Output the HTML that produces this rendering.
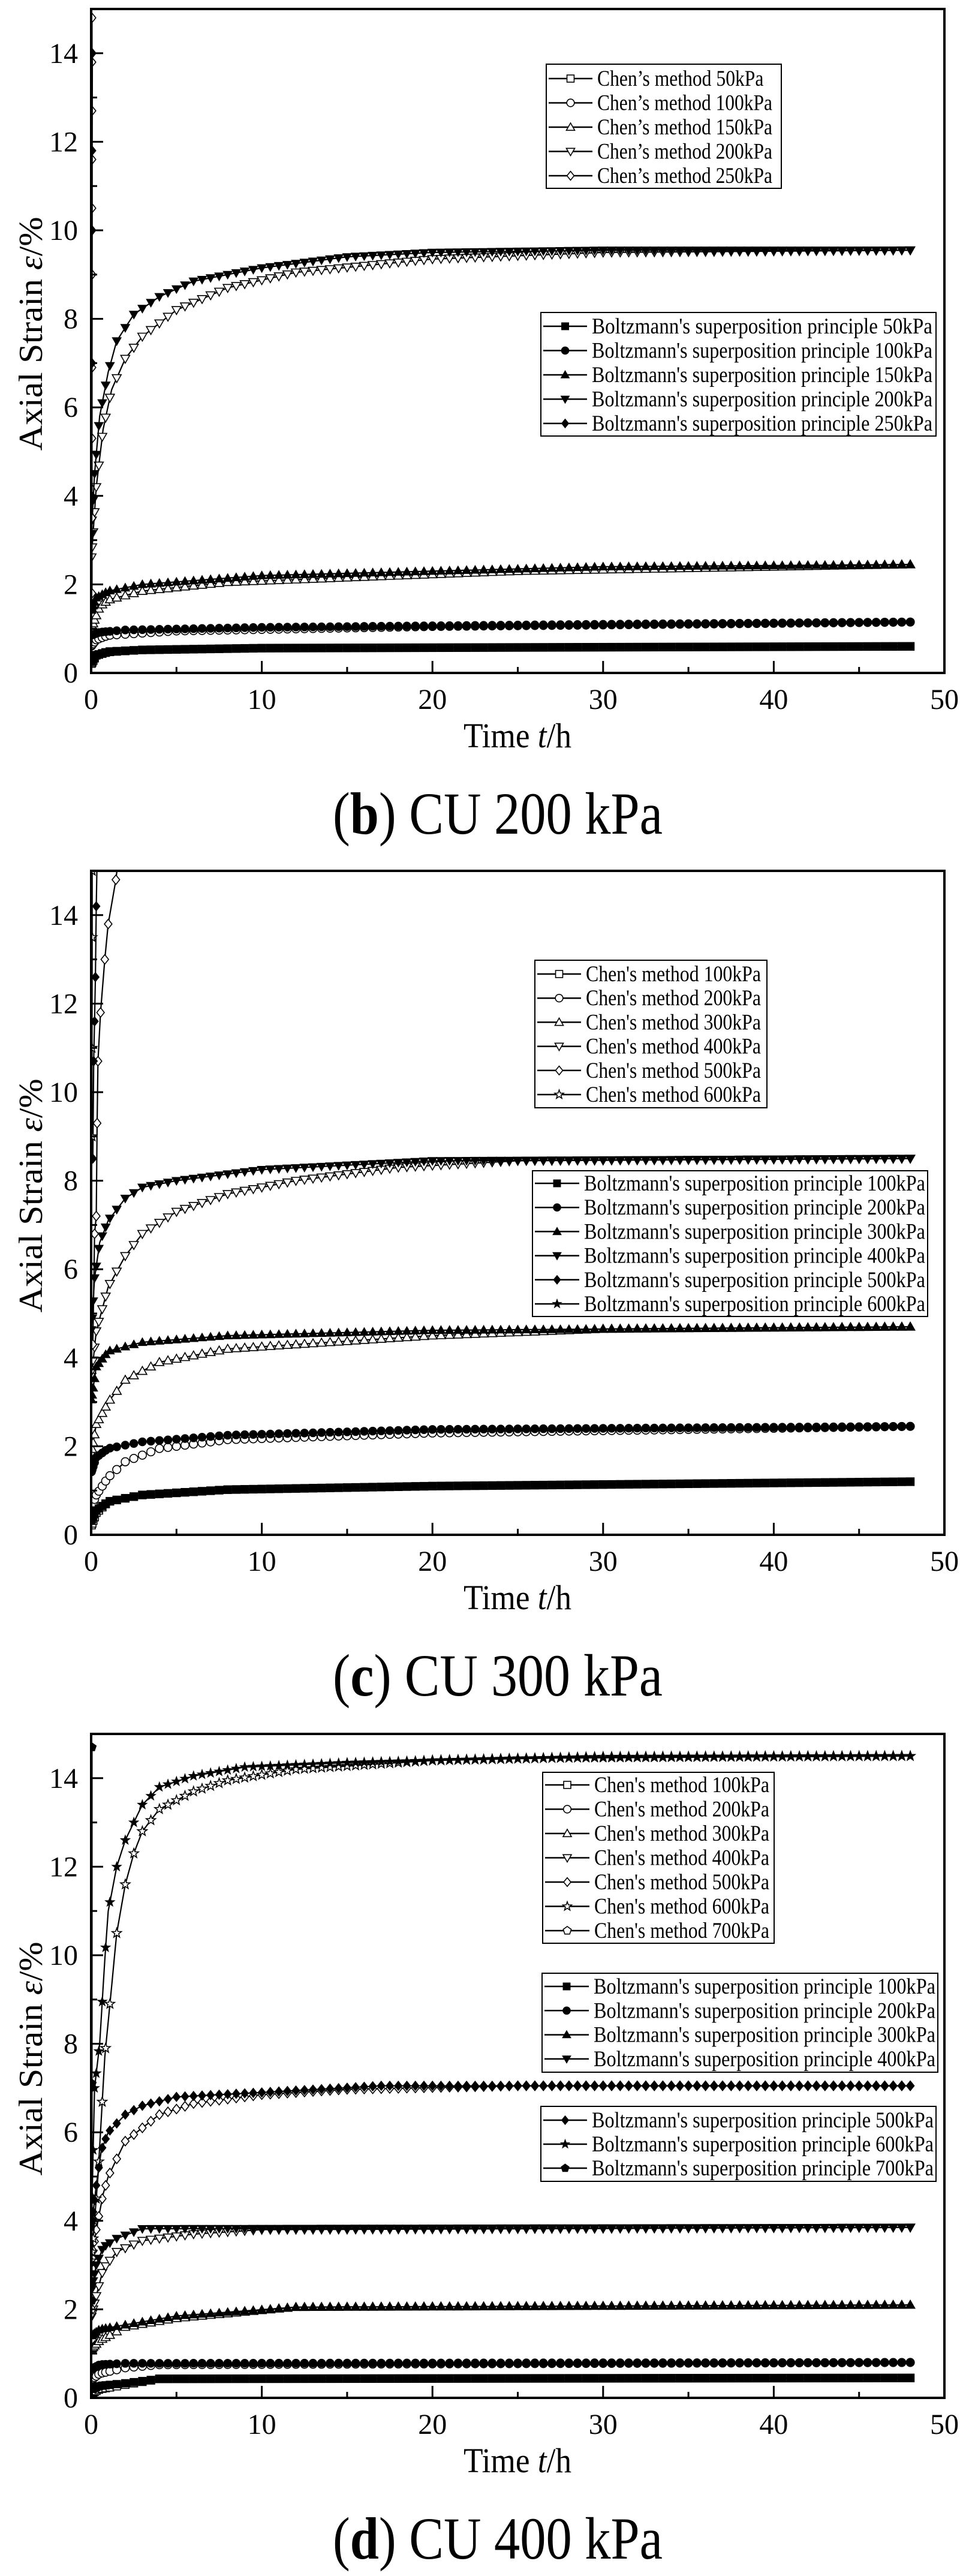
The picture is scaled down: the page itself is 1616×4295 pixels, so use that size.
<!DOCTYPE html>
<html><head><meta charset="utf-8">
<style>
html,body{margin:0;padding:0;background:#fff;}
svg{display:block;}
text{font-family:"Liberation Serif",serif;fill:#000;}
</style></head>
<body>
<svg id="s" width="1616" height="4295" viewBox="0 0 1616 4295" xmlns="http://www.w3.org/2000/svg"></svg>
<script>
const S=document.getElementById('s');
const NS='http://www.w3.org/2000/svg';
function el(tag,attrs,parent,txt){const e=document.createElementNS(NS,tag);for(const k in attrs)e.setAttribute(k,attrs[k]);if(txt!==undefined)e.textContent=txt;(parent||S).appendChild(e);return e;}
const X0=152,X1=1575,PX=(X1-X0)/50,PH=1107,PU=PH/15;

function marker(g,type,cx,cy,filled,r){
  r=r||7.5;
  const f=filled?'#000':'#fff';
  const a={fill:f,stroke:'#000','stroke-width':filled?1:1.6};
  let pts;
  switch(type){
    case 'sq': el('rect',Object.assign({x:cx-r*0.85,y:cy-r*0.85,width:r*1.7,height:r*1.7},a),g);return;
    case 'ci': el('circle',Object.assign({cx:cx,cy:cy,r:r*0.9},a),g);return;
    case 'tu': pts=[[0,-r],[r,r*0.75],[-r,r*0.75]];break;
    case 'td': pts=[[0,r],[r,-r*0.75],[-r,-r*0.75]];break;
    case 'di': pts=[[0,-r*1.05],[r*0.85,0],[0,r*1.05],[-r*0.85,0]];break;
    case 'st': pts=[];for(let i=0;i<10;i++){const ang=-Math.PI/2+i*Math.PI/5;const rr=i%2?r*0.45:r*1.1;pts.push([rr*Math.cos(ang),rr*Math.sin(ang)]);}break;
    case 'pe': pts=[];for(let i=0;i<5;i++){const ang=-Math.PI/2+i*2*Math.PI/5;pts.push([r*Math.cos(ang),r*Math.sin(ang)]);}break;
  }
  el('polygon',Object.assign({points:pts.map(p=>(cx+p[0]).toFixed(1)+','+(cy+p[1]).toFixed(1)).join(' ')},a),g);
}

function interp(kp,t){
  if(t<=kp[0][0])return kp[0][1];
  for(let i=1;i<kp.length;i++){if(t<=kp[i][0]){const a=kp[i-1],b=kp[i];const u=(t-a[0])/(b[0]-a[0]);return a[1]+(b[1]-a[1])*u;}}
  return kp[kp.length-1][1];
}
const MT=[0.02,0.06,0.12,0.2,0.3,0.45,0.65,0.85,1.1];
for(let t=1.5;t<=48.01;t+=0.5)MT.push(t);

function chart(top,cfg){
  const y0=top+PH;
  const Y=v=>y0-v*PU, Xp=t=>X0+t*PX;
  const g=el('g',{});
  const clip='c'+top;
  const cp=el('clipPath',{id:clip},g);el('rect',{x:X0,y:top,width:X1-X0,height:PH},cp);
  const sg=el('g',{'clip-path':'url(#'+clip+')'},g);
  cfg.series.forEach(s=>{
    let pts=[];
    if(s.vert){
      s.vert.forEach(p=>pts.push([Xp(p[0]),Y(p[1])]));
      el('polyline',{points:pts.map(p=>p.join(',')).join(' '),fill:'none',stroke:'#000','stroke-width':2.2},sg);
      pts.forEach(p=>marker(sg,s.m,p[0],p[1],s.f));
      return;
    }
    const line=[];
    for(let t=0;t<=48;t+=0.1)line.push([Xp(t).toFixed(1),Y(interp(s.kp,t)).toFixed(1)]);
    el('polyline',{points:line.map(p=>p.join(',')).join(' '),fill:'none',stroke:'#000','stroke-width':2.2},sg);
    MT.forEach(t=>marker(sg,s.m,Xp(t),Y(interp(s.kp,t)),s.f));
  });
  el('rect',{x:X0,y:top,width:X1-X0,height:PH,fill:'none',stroke:'#000','stroke-width':4},g);
  for(let v=0;v<=50;v+=5){const x=Xp(v);el('line',{x1:x,y1:y0,x2:x,y2:y0-(v%10?10:20),stroke:'#000','stroke-width':3},g);
    if(v%10===0)el('text',{x:x,y:y0+60,'font-size':48,'text-anchor':'middle'},g,String(v));}
  for(let v=0;v<=15;v++){const y=Y(v);el('line',{x1:X0,y1:y,x2:X0+(v%2?10:20),y2:y,stroke:'#000','stroke-width':3},g);
    if(v%2===0)el('text',{x:130,y:y+16,'font-size':48,'text-anchor':'end'},g,String(v));}
  const cy=(top+y0)/2;
  const yt=el('text',{x:0,y:0,'font-size':56,'text-anchor':'middle',transform:`translate(70,${cy-12}) rotate(-90)`,textLength:390,lengthAdjust:'spacingAndGlyphs'},g);
  el('tspan',{},yt,'Axial Strain  ');el('tspan',{'font-style':'italic'},yt,'ε');el('tspan',{},yt,'/%');
  const xt=el('text',{x:863,y:y0+124,'font-size':58,'text-anchor':'middle',textLength:180,lengthAdjust:'spacingAndGlyphs'},g);
  el('tspan',{},xt,'Time ');el('tspan',{'font-style':'italic'},xt,'t');el('tspan',{},xt,'/h');
  const cap=el('text',{x:830,y:y0+268,'font-size':100,'text-anchor':'middle',textLength:550,lengthAdjust:'spacingAndGlyphs'},g);
  el('tspan',{},cap,'(');el('tspan',{'font-weight':'bold'},cap,cfg.cap[0]);el('tspan',{},cap,') '+cfg.cap[1]);
  cfg.legends.forEach(L=>{
    el('rect',{x:L.x,y:L.y,width:L.w,height:L.h,fill:'#fff',stroke:'#000','stroke-width':2},g);
    L.items.forEach((it,i)=>{
      const yy=L.y0+i*L.dy;
      el('line',{x1:L.x+4,y1:yy,x2:L.tx-8,y2:yy,stroke:'#000','stroke-width':2.5},g);
      marker(g,it[0],(L.x+L.tx-4)/2,yy,it[1],7);
      el('text',{x:L.tx,y:yy+12,'font-size':37,textLength:L.tl(it[2]),lengthAdjust:'spacingAndGlyphs'},g,it[2]);
    });
  });
}

const chenW=(s)=>s.length*14.6;

chart(15,{
  cap:['b','CU 200 kPa'],
  series:[
    {m:'sq',f:0,kp:[[0,0.2],[0.3,0.4],[1,0.48],[3,0.52],[10,0.56],[48,0.6]]},
    {m:'ci',f:0,kp:[[0,0.6],[0.3,0.75],[1,0.85],[5,0.95],[20,1.05],[48,1.15]]},
    {m:'tu',f:0,kp:[[0,1.0],[0.5,1.5],[1,1.65],[3,1.85],[8,2.05],[25,2.3],[48,2.45]]},
    {m:'td',f:0,kp:[[0,2.5],[0.3,4.2],[0.7,5.5],[1.2,6.4],[2,7.1],[3,7.6],[5,8.2],[8,8.7],[12,9.05],[20,9.35],[30,9.5],[48,9.55]]},
    {m:'sq',f:1,kp:[[0,0.25],[0.3,0.4],[1,0.47],[3,0.52],[10,0.56],[48,0.6]]},
    {m:'ci',f:1,kp:[[0,0.85],[0.5,0.92],[2,0.97],[10,1.03],[30,1.1],[48,1.15]]},
    {m:'tu',f:1,kp:[[0,1.4],[0.3,1.7],[1,1.85],[3,2.0],[10,2.2],[30,2.4],[48,2.45]]},
    {m:'td',f:1,kp:[[0,3.0],[0.2,4.5],[0.5,5.8],[1,6.8],[1.5,7.5],[2.5,8.1],[4,8.5],[6,8.85],[10,9.15],[15,9.4],[20,9.5],[30,9.55],[48,9.55]]},
    {m:'di',f:0,vert:[[0.05,1.8],[0.05,3.5],[0.05,5.3],[0.05,6.9],[0.05,9.0],[0.05,10.5],[0.05,11.6],[0.05,12.7],[0.05,13.8],[0.05,14.8]]},
    {m:'di',f:1,vert:[[0.02,1.5],[0.04,4],[0.05,7],[0.06,10],[0.06,11.8],[0.07,14.0]]},
  ],
  legends:[
    {x:911,y:107,w:392,h:207,y0:131,dy:40.5,tx:996,tl:chenW,items:[['sq',0,'Chen’s method 50kPa'],['ci',0,'Chen’s method 100kPa'],['tu',0,'Chen’s method 150kPa'],['td',0,'Chen’s method 200kPa'],['di',0,'Chen’s method 250kPa']]},
    {x:902,y:521,w:659,h:206,y0:544,dy:40.5,tx:987,tl:s=>568,items:[['sq',1,"Boltzmann's superposition principle 50kPa"],['ci',1,"Boltzmann's superposition principle 100kPa"],['tu',1,"Boltzmann's superposition principle 150kPa"],['td',1,"Boltzmann's superposition principle 200kPa"],['di',1,"Boltzmann's superposition principle 250kPa"]]}
  ]
});

chart(1452,{
  cap:['c','CU 300 kPa'],
  series:[
    {m:'sq',f:0,kp:[[0,0.2],[0.3,0.5],[1,0.75],[3,0.9],[8,1.02],[20,1.1],[48,1.2]]},
    {m:'ci',f:0,kp:[[0,0.6],[0.3,0.9],[1,1.3],[2,1.65],[4,1.95],[8,2.15],[20,2.3],[48,2.45]]},
    {m:'tu',f:0,kp:[[0,1.8],[0.3,2.5],[1,3.0],[2,3.5],[4,3.9],[8,4.2],[20,4.5],[30,4.65],[48,4.7]]},
    {m:'td',f:0,kp:[[0,3.5],[0.3,4.6],[1,5.6],[2,6.3],[3,6.8],[5,7.3],[8,7.7],[12,8.0],[18,8.3],[25,8.45],[48,8.5]]},
    {m:'sq',f:1,kp:[[0,0.3],[0.3,0.55],[1,0.75],[3,0.9],[8,1.02],[20,1.1],[48,1.2]]},
    {m:'ci',f:1,kp:[[0,1.4],[0.3,1.75],[1,1.95],[3,2.1],[8,2.25],[20,2.38],[48,2.45]]},
    {m:'tu',f:1,kp:[[0,3.0],[0.3,3.8],[1,4.15],[3,4.35],[8,4.5],[20,4.62],[48,4.7]]},
    {m:'td',f:1,kp:[[0,4.5],[0.2,5.8],[0.5,6.6],[1,7.1],[2,7.6],[3,7.85],[5,8.0],[10,8.25],[20,8.45],[48,8.5]]},
    {m:'di',f:0,vert:[[0.1,4.3],[0.2,6.8],[0.3,7.2],[0.35,9.3],[0.4,10.7],[0.55,11.8],[0.8,13.0],[1.0,13.8],[1.45,14.8],[1.6,15.3]]},
    {m:'di',f:1,vert:[[0.1,8.5],[0.15,10.7],[0.2,11.6],[0.25,12.6],[0.3,14.2],[0.35,15.3]]},
    {m:'st',f:0,vert:[[0.05,9],[0.05,11],[0.06,13.5],[0.06,15]]},
  ],
  legends:[
    {x:892,y:1601,w:387,h:246,y0:1624,dy:40.2,tx:977,tl:chenW,items:[['sq',0,"Chen's method 100kPa"],['ci',0,"Chen's method 200kPa"],['tu',0,"Chen's method 300kPa"],['td',0,"Chen's method 400kPa"],['di',0,"Chen's method 500kPa"],['st',0,"Chen's method 600kPa"]]},
    {x:888,y:1952,w:659,h:243,y0:1973,dy:40.2,tx:974,tl:s=>569,items:[['sq',1,"Boltzmann's superposition principle 100kPa"],['ci',1,"Boltzmann's superposition principle 200kPa"],['tu',1,"Boltzmann's superposition principle 300kPa"],['td',1,"Boltzmann's superposition principle 400kPa"],['di',1,"Boltzmann's superposition principle 500kPa"],['st',1,"Boltzmann's superposition principle 600kPa"]]}
  ]
});

chart(2891,{
  cap:['d','CU 400 kPa'],
  series:[
    {m:'sq',f:0,kp:[[0,0.1],[0.5,0.2],[2,0.3],[4,0.43],[48,0.45]]},
    {m:'ci',f:0,kp:[[0,0.4],[0.5,0.55],[2,0.68],[4,0.75],[48,0.8]]},
    {m:'tu',f:0,kp:[[0,1.1],[0.5,1.3],[2,1.6],[5,1.8],[12,2.05],[48,2.1]]},
    {m:'td',f:0,kp:[[0,1.8],[0.3,2.3],[0.7,2.9],[1.5,3.3],[3,3.55],[6,3.7],[10,3.8],[48,3.85]]},
    {m:'di',f:0,kp:[[0,3],[0.3,3.8],[0.7,4.6],[1,5.0],[1.5,5.4],[2,5.8],[3,6.1],[4,6.4],[6,6.65],[10,6.85],[15,6.97],[25,7.05],[48,7.05]]},
    {m:'st',f:0,kp:[[0,3],[0.4,5],[0.8,7.7],[1.2,9.3],[1.5,10.5],[2,11.6],[2.5,12.3],[3,12.8],[4,13.3],[6,13.7],[8,13.95],[12,14.2],[20,14.4],[30,14.48],[48,14.5]]},
    {m:'sq',f:1,kp:[[0,0.2],[0.5,0.27],[2,0.33],[4,0.43],[48,0.45]]},
    {m:'ci',f:1,kp:[[0,0.65],[0.5,0.75],[2,0.78],[48,0.8]]},
    {m:'tu',f:1,kp:[[0,1.4],[0.5,1.55],[2,1.65],[5,1.85],[12,2.05],[48,2.1]]},
    {m:'td',f:1,kp:[[0,2.4],[0.3,3.0],[0.7,3.4],[1.5,3.6],[3,3.82],[48,3.85]]},
    {m:'di',f:1,kp:[[0,3.8],[0.3,4.8],[0.6,5.6],[1,6.0],[2,6.4],[3,6.6],[5,6.8],[10,6.9],[17,7.05],[48,7.05]]},
    {m:'st',f:1,kp:[[0,3.5],[0.2,7.0],[0.5,8.0],[0.8,9.9],[1,11.0],[1.5,12.0],[2,12.6],[2.5,13.0],[3,13.4],[4,13.8],[6,14.05],[9,14.25],[15,14.35],[25,14.45],[48,14.5]]},
    {m:'pe',f:1,vert:[[0.05,2.2],[0.05,4.0],[0.05,7.1],[0.05,14.7]]},
  ],
  legends:[
    {x:905,y:2955,w:386,h:285,y0:2976,dy:40.5,tx:991,tl:chenW,items:[['sq',0,"Chen's method 100kPa"],['ci',0,"Chen's method 200kPa"],['tu',0,"Chen's method 300kPa"],['td',0,"Chen's method 400kPa"],['di',0,"Chen's method 500kPa"],['st',0,"Chen's method 600kPa"],['pe',0,"Chen's method 700kPa"]]},
    {x:904,y:3290,w:660,h:165,y0:3312,dy:40.3,tx:990,tl:s=>570,items:[['sq',1,"Boltzmann's superposition principle 100kPa"],['ci',1,"Boltzmann's superposition principle 200kPa"],['tu',1,"Boltzmann's superposition principle 300kPa"],['td',1,"Boltzmann's superposition principle 400kPa"]]},
    {x:902,y:3512,w:659,h:125,y0:3535,dy:40,tx:987,tl:s=>570,items:[['di',1,"Boltzmann's superposition principle 500kPa"],['st',1,"Boltzmann's superposition principle 600kPa"],['pe',1,"Boltzmann's superposition principle 700kPa"]]}
  ]
});
</script>
</body></html>
